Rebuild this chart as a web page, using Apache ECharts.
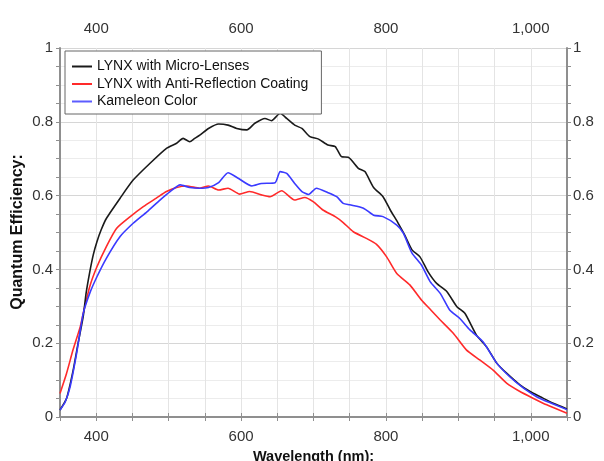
<!DOCTYPE html>
<html><head><meta charset="utf-8">
<script src="https://cdn.jsdelivr.net/npm/echarts@6/dist/echarts.min.js"></script>
<style>html,body{margin:0;padding:0;background:#fff}#c{width:604px;height:461px}</style>
</head><body><div id="c"></div>
<script>
const seriesNames = ['LYNX with Micro-Lenses','LYNX with Anti-Reflection Coating','Kameleon Color'];
const yTitle = 'Quantum Efficiency:';
const xTitle = 'Wavelength (nm):';
const microX = [350,359,368,375,382,386,391,396,401,407,414,433,451,474,497,511,520,529,536,543,555,569,582,594,608,619,633,642,654,663,674,684,695,707,720,730,739,748,762,771,783,796,806,817,826,836,847,858,870,884,898,909,925,939,953,967,985,999,1013,1031,1050];
const microY = [0.019,0.05,0.125,0.2,0.272,0.335,0.392,0.44,0.475,0.508,0.538,0.593,0.642,0.687,0.728,0.742,0.755,0.746,0.755,0.764,0.782,0.794,0.791,0.782,0.778,0.796,0.809,0.803,0.823,0.809,0.791,0.782,0.76,0.753,0.737,0.733,0.705,0.704,0.674,0.665,0.622,0.597,0.561,0.525,0.493,0.453,0.434,0.394,0.362,0.34,0.299,0.281,0.222,0.19,0.146,0.118,0.087,0.069,0.055,0.037,0.022];
const redX = [350,359,368,378,382,391,401,414,428,447,465,483,497,511,525,543,555,569,582,598,612,628,640,656,674,688,700,713,730,741,755,773,787,801,815,833,849,862,875,893,911,930,948,967,985,1003,1022,1050];
const redY = [0.064,0.118,0.182,0.245,0.28,0.353,0.407,0.462,0.511,0.543,0.57,0.593,0.611,0.622,0.626,0.62,0.626,0.615,0.62,0.604,0.611,0.602,0.597,0.613,0.588,0.595,0.583,0.561,0.543,0.527,0.502,0.484,0.468,0.434,0.389,0.358,0.317,0.29,0.263,0.227,0.182,0.154,0.127,0.091,0.069,0.051,0.033,0.01];
const blueX = [350,357,364,373,382,391,401,414,433,451,470,488,502,516,529,543,555,569,582,596,615,628,647,654,663,674,684,693,704,720,732,741,750,769,783,796,815,824,836,849,861,875,888,902,916,934,953,971,990,1008,1026,1050];
const blueY = [0.019,0.04,0.082,0.173,0.28,0.335,0.38,0.43,0.489,0.525,0.556,0.588,0.611,0.629,0.622,0.62,0.622,0.635,0.662,0.647,0.626,0.633,0.635,0.665,0.66,0.633,0.611,0.603,0.62,0.608,0.597,0.579,0.575,0.566,0.547,0.543,0.52,0.498,0.444,0.412,0.367,0.335,0.29,0.267,0.236,0.204,0.146,0.109,0.078,0.055,0.039,0.02];
const xTickLabels = [400,600,800,1000];
const yTickLabels = [0,0.2,0.4,0.6,0.8,1];

const pair = (xs, ys) => xs.map((x, i) => [x, ys[i]]);
const FONT = 'Liberation Sans';
const xFmt = v => xTickLabels.indexOf(v) >= 0 ? v.toLocaleString('en-US') : '';
const yFmt = v => { const r = Math.round(v * 100); return yTickLabels.some(t => Math.round(t * 100) === r) ? String(r / 100) : ''; };
const axisLineStyle = {show: true, lineStyle: {color: '#8f8f8f', width: 2}};
const tick = {show: true, inside: false, length: 4, lineStyle: {color: '#8f8f8f', width: 1}};
const lbl = (m) => ({fontFamily: FONT, fontSize: 15, color: '#333', margin: m, interval: 0});

const chart = echarts.init(document.getElementById('c'), null, {renderer: 'canvas'});
chart.setOption({
  animation: false,
  backgroundColor: '#fff',
  grid: {left: 60, right: 37, top: 48, bottom: 44, containLabel: false, outerBoundsMode: 'none'},
  graphic: [{
    type: 'text', x: 18, y: 232, rotation: Math.PI / 2,
    style: {text: yTitle, fontFamily: FONT, fontSize: 16, fontWeight: 'bold', fill: '#111',
            align: 'center', verticalAlign: 'middle'}
  }],
  legend: {
    orient: 'vertical', left: 65, top: 51,
    data: seriesNames,
    icon: 'rect', itemWidth: 20, itemHeight: 2, itemGap: 2.5,
    padding: [8, 13, 5, 7],
    borderColor: '#666', borderWidth: 1, backgroundColor: '#fff',
    textStyle: {fontFamily: FONT, fontSize: 14, color: '#111', lineHeight: 15}
  },
  xAxis: [
    {type: 'value', min: 350, max: 1050, interval: 50, position: 'bottom',
     name: xTitle, nameLocation: 'middle', nameGap: 32,
     nameTextStyle: {fontFamily: FONT, fontSize: 14.5, fontWeight: 'bold', color: '#111'},
     axisLine: axisLineStyle, axisTick: tick,
     axisLabel: Object.assign(lbl(12), {formatter: xFmt}),
     splitLine: {show: true, lineStyle: {color: '#e4e4e4', width: 1}}},
    {type: 'value', min: 350, max: 1050, interval: 50, position: 'top',
     axisLine: axisLineStyle, axisTick: tick,
     axisLabel: Object.assign(lbl(12), {formatter: xFmt}),
     splitLine: {show: false}}
  ],
  yAxis: [
    {type: 'value', min: 0, max: 1, interval: 0.05, position: 'left',
     axisLine: axisLineStyle, axisTick: tick,
     axisLabel: Object.assign(lbl(7), {formatter: yFmt}),
     splitLine: {show: true, lineStyle: {color: ['#d6d6d6', '#ececec', '#ececec', '#ececec'], width: 1}}},
    {type: 'value', min: 0, max: 1, interval: 0.05, position: 'right',
     axisLine: axisLineStyle, axisTick: tick,
     axisLabel: Object.assign(lbl(6), {formatter: yFmt}),
     splitLine: {show: false}}
  ],
  series: [
    {name: seriesNames[0], type: 'line', data: pair(microX, microY), showSymbol: false, smooth: 0.2,
     lineStyle: {width: 1.6, color: '#1a1a1a'}, itemStyle: {color: '#1a1a1a'}, z: 3},
    {name: seriesNames[1], type: 'line', data: pair(redX, redY), showSymbol: false, smooth: 0.2,
     lineStyle: {width: 1.6, color: '#ff2a2a'}, itemStyle: {color: '#ff2a2a'}, z: 2},
    {name: seriesNames[2], type: 'line', data: pair(blueX, blueY), showSymbol: false, smooth: 0.2,
     lineStyle: {width: 1.6, color: '#3a3aff'}, itemStyle: {color: '#5c5cff'}, z: 4}
  ]
});
</script></body></html>
